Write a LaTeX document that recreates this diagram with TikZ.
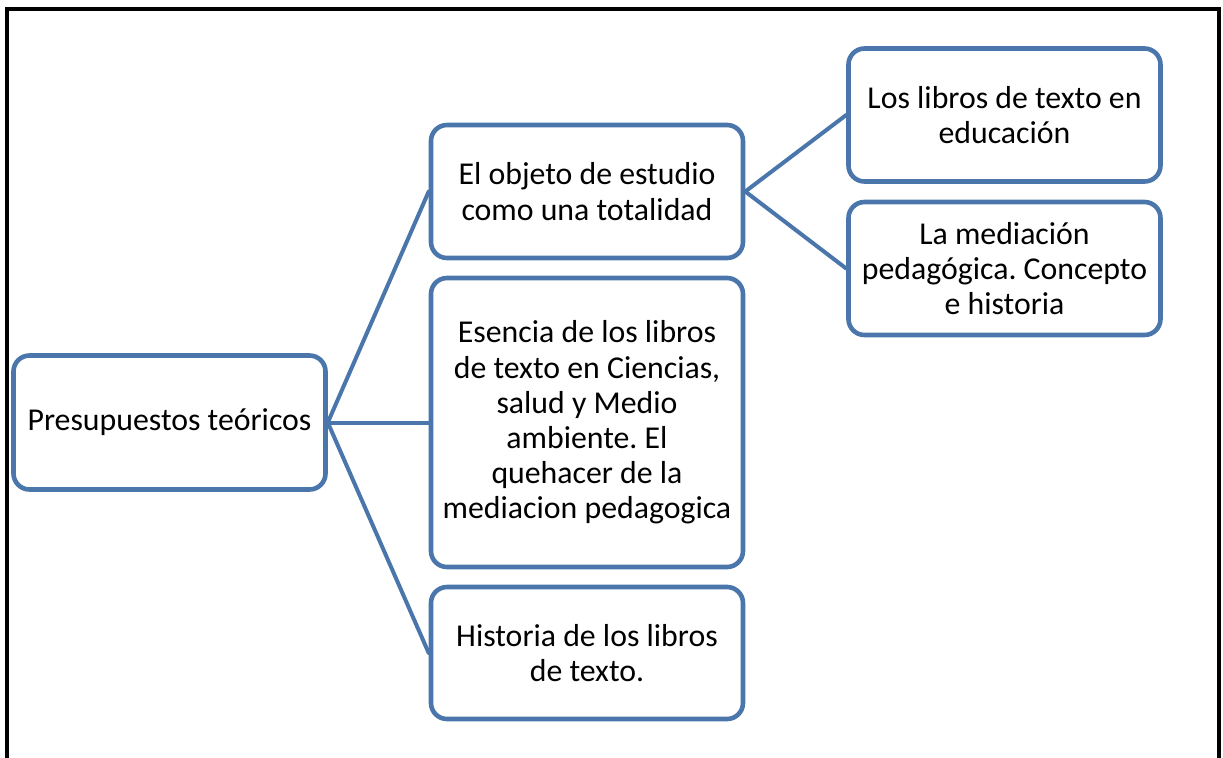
\documentclass[tikz,border=0pt]{standalone}
\usepackage{fontspec}
\setmainfont{Carlito}
\frenchspacing
\definecolor{boxblue}{RGB}{74,118,172}
\begin{document}
\begin{tikzpicture}[x=0.5pt,y=-0.5pt]
            \tikzset{Topic/.style={draw=boxblue,line width=2.3pt,rounded corners=8pt,fill=white,
                    minimum width=156pt,inner sep=0pt,align=center,font=\fontsize{15.9}{17.6}\selectfont},
                Link/.style={draw=boxblue,line width=2pt,line cap=round}}
            \useasboundingbox (0,0) rectangle (1223,757);
            \clip (0,0) rectangle (1223,757);
            \draw[line width=2.3pt] (7,770) -- (7,9) -- (1219,9) -- (1219,770);
            \node[Topic,minimum height=67pt] (root) at (169.5,422.5) {Presupuestos teóricos};
            \node[Topic,minimum height=66.5pt] (obj) at (587,191.5) {El objeto de estudio\\como una totalidad};
            \node[Topic,minimum height=144.5pt] (esen) at (587,422.5) {Esencia de los libros\\de texto en Ciencias,\\salud y Medio\\ambiente. El\\quehacer de la\\mediacion pedagogica};
            \node[Topic,minimum height=66pt] (hist) at (587,653) {Historia de los libros\\de texto.};
            \node[Topic,minimum height=66.5pt] (libros) at (1004.5,115) {Los libros de texto en\\educación};
            \node[Topic,minimum height=66.5pt] (medi) at (1004.5,268.5) {La mediación\\pedagógica. Concepto\\e historia};
            \draw[Link] (root.east) -- (obj.west);
            \draw[Link] (root.east) -- (esen.west);
            \draw[Link] (root.east) -- (hist.west);
            \draw[Link] (obj.east) -- (libros.west);
            \draw[Link] (obj.east) -- (medi.west);
        \end{tikzpicture}
\end{document}
